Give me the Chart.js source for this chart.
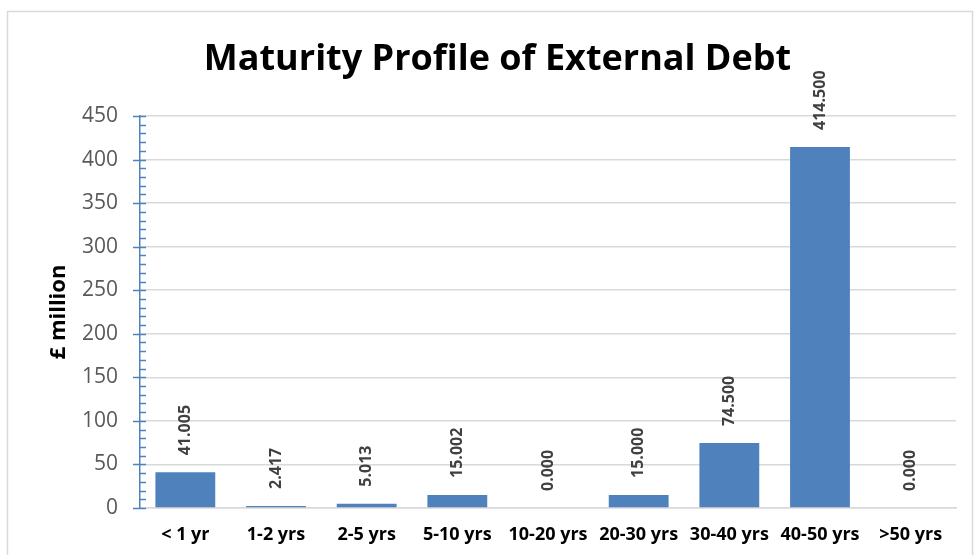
<!DOCTYPE html>
<html><head><meta charset="utf-8">
<script src="https://cdn.jsdelivr.net/npm/chart.js@4/dist/chart.umd.min.js"></script>
<style>html,body{margin:0;padding:0;background:#fff}#wrap{width:974px;height:555px;position:relative}</style>
</head><body><div id="wrap"><canvas id="c" width="974" height="555"></canvas></div>
<script>
const categories = ['< 1 yr','1-2 yrs','2-5 yrs','5-10 yrs','10-20 yrs','20-30 yrs','30-40 yrs','40-50 yrs','>50 yrs'];
const values = [41.005, 2.417, 5.013, 15.002, 0.000, 15.000, 74.500, 414.500, 0.000];
const yMax = 450;
const yStep = 50;
const yMinorStep = 10;
const FONT = '"Open Sans", Lato, sans-serif';

const framePlugin = {
  id: 'frame',
  beforeDraw(chart) {
    const ctx = chart.ctx;
    ctx.save();
    ctx.strokeStyle = '#d9d9d9';
    ctx.lineWidth = 1.5;
    ctx.strokeRect(7.5, 11.5, 965, 600);
    ctx.restore();
  }
};

const minorTicksPlugin = {
  id: 'minorTicks',
  afterDraw(chart) {
    const s = chart.scales.y;
    const ctx = chart.ctx;
    const x = s.right;
    ctx.save();
    ctx.strokeStyle = '#4f81bd';
    ctx.lineWidth = 1.5;
    for (let v = 0; v <= yMax; v += yMinorStep) {
      const y = Math.round(s.getPixelForValue(v)) + 0.5;
      ctx.beginPath();
      if (v % yStep === 0) { ctx.moveTo(x - 7, y); ctx.lineTo(x + 6, y); }
      else { ctx.moveTo(x, y); ctx.lineTo(x + 6, y); }
      ctx.stroke();
    }
    ctx.restore();
  }
};

const dataLabelPlugin = {
  id: 'dataLabels',
  afterDatasetsDraw(chart) {
    const ctx = chart.ctx;
    const meta = chart.getDatasetMeta(0);
    ctx.save();
    ctx.fillStyle = '#404040';
    ctx.font = 'bold 16px ' + FONT;
    ctx.textAlign = 'left';
    ctx.textBaseline = 'middle';
    meta.data.forEach((bar, i) => {
      ctx.save();
      ctx.translate(bar.x, bar.y - 17);
      ctx.rotate(-Math.PI / 2);
      ctx.fillText(values[i].toFixed(3), 0, 0);
      ctx.restore();
    });
    ctx.restore();
  }
};

new Chart(document.getElementById('c'), {
  type: 'bar',
  data: {
    labels: categories,
    datasets: [{ data: values, backgroundColor: '#4f81bd', barPercentage: 0.66, categoryPercentage: 1.0 }]
  },
  options: {
    responsive: false,
    animation: false,
    layout: { padding: { left: 39, right: 18, top: 18, bottom: 0 } },
    plugins: {
      legend: { display: false },
      tooltip: { enabled: false },
      title: {
        display: true,
        text: 'Maturity Profile of External Debt',
        color: '#000',
        font: { family: FONT, size: 36, weight: 'bold', lineHeight: 1.2 },
        padding: { top: 20, bottom: 34.8 }
      }
    },
    scales: {
      x: {
        grid: { display: false, drawTicks: false },
        border: { color: '#d9d9d9', width: 1.5 },
        ticks: { color: '#000', font: { family: FONT, size: 18, weight: 'bold' }, padding: 16, maxRotation: 0 },
        afterFit(s) { s.height = 47; }
      },
      y: {
        min: 0, max: yMax,
        ticks: { stepSize: yStep, color: '#595959', font: { family: FONT, size: 21 }, padding: 22 },
        grid: { color: '#d9d9d9', lineWidth: 1.5, drawTicks: false },
        border: { color: '#4f81bd', width: 1.5 },
        title: { display: true, text: '£ million', color: '#000', font: { family: FONT, size: 22, weight: 'bold' }, padding: { top: 7, bottom: 0 } },
        afterFit(s) { s.width = 101; }
      }
    }
  },
  plugins: [framePlugin, minorTicksPlugin, dataLabelPlugin]
});
</script></body></html>
